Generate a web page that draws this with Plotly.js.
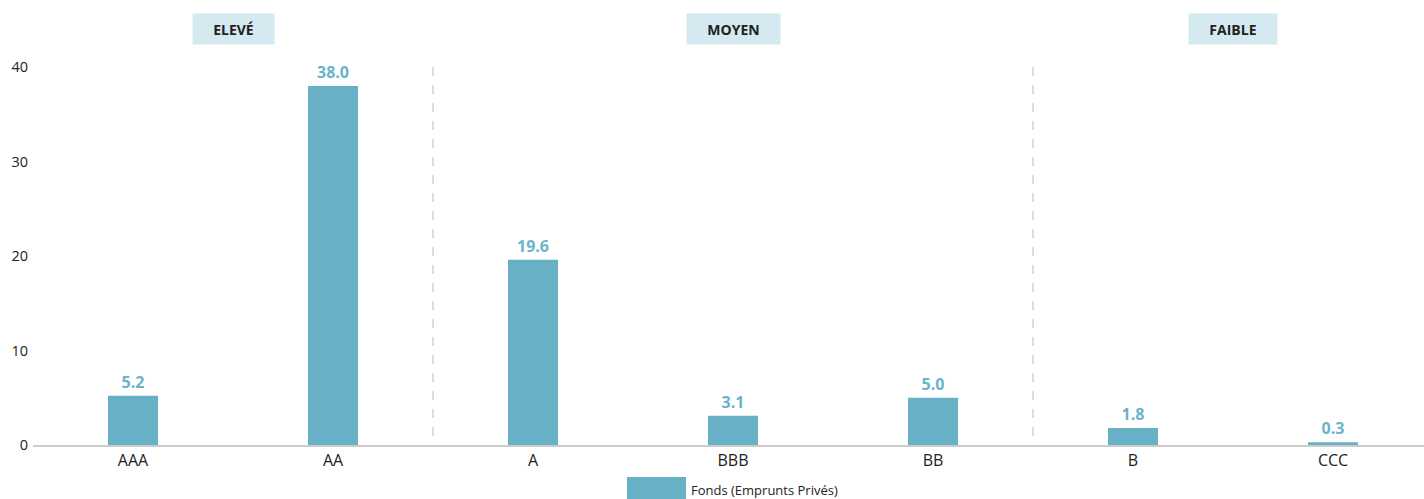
<!DOCTYPE html>
<html><head><meta charset="utf-8">
<script src="https://cdn.plot.ly/plotly-3.0.1.min.js"></script>
<style>html,body{margin:0;padding:0;background:#fff}#chart{width:1424px;height:499px}</style>
</head><body><div id="chart"></div>
<script>
const categories = ["AAA","AA","A","BBB","BB","B","CCC"];
const values = [5.2, 38.0, 19.6, 3.1, 5.0, 1.8, 0.3];
const seriesName = "Fonds (Emprunts Privés)";
const groupLabels = ["ELEVÉ","MOYEN","FAIBLE"];
const groupCenters = [0.5, 3, 5.5];
const groupDividers = [1.5, 4.5];
const yTicks = [0,10,20,30,40];

const barColor = "#67b0c6";
const font = "'Open Sans', 'Noto Sans', sans-serif";

const trace = {
  type: "bar",
  x: categories.map((c,i)=>i),
  y: values,
  name: seriesName,
  width: 0.25,
  marker: {color: barColor},
  text: values.map(v=>v.toFixed(1)),
  textposition: "outside",
  textfont: {family: font, size: 16, color: "#6ab3c9", weight: 700},
  cliponaxis: false,
  hoverinfo: "skip",
  showlegend: false
};

const shapes = groupDividers.map(d=>({
  type:"line", xref:"x", yref:"paper", x0:d, x1:d, y0:1, y1:0,
  line:{color:"#bbbbbb", width:1, dash:"dash"}
}));
shapes.push({type:"rect", xref:"paper", yref:"paper", x0:(627-33)/1391, x1:(686-33)/1391, y0:-32/378, y1:-54/378, line:{width:0}, fillcolor:barColor});

const annotations = groupLabels.map((g,i)=>({
  x: groupCenters[i], xref:"x", y: 1, yref:"paper", yshift: 38,
  text: "<b>"+g+"</b>", showarrow:false, yanchor:"middle",
  font:{family:font, size:14, color:"#222"},
  bgcolor:"#d4e9f0", borderpad:7, width: (i===0?67:i===1?79:74), height:16
}));
annotations.push({x:(689-33)/1391, xref:"paper", y:-45/378, yref:"paper", xanchor:"left", yanchor:"middle",
  text: seriesName, showarrow:false, font:{family:font, size:13, color:"#222"}});

const layout = {
  width:1424, height:499,
  margin:{l:33, r:0, t:67, b:54},
  paper_bgcolor:"#fff", plot_bgcolor:"#fff",
  font:{family:font, color:"#222"},
  xaxis:{range:[-0.5, 6.455], tickvals:categories.map((c,i)=>i), ticktext:categories,
    showgrid:false, zeroline:false, showline:true, linecolor:"#cccccc", linewidth:1.5,
    ticks:"", tickfont:{family:font, size:16, color:"#222"}, fixedrange:true},
  yaxis:{range:[0,40], tickvals:yTicks, showgrid:false, zeroline:false, showline:false,
    ticks:"", tickfont:{family:font, size:14.5, color:"#222"}, ticklabelstandoff:4, fixedrange:true},
  shapes, annotations, showlegend:false, bargap:0.75
};
Plotly.newPlot("chart", [trace], layout, {displayModeBar:false, staticPlot:true});
</script></body></html>
